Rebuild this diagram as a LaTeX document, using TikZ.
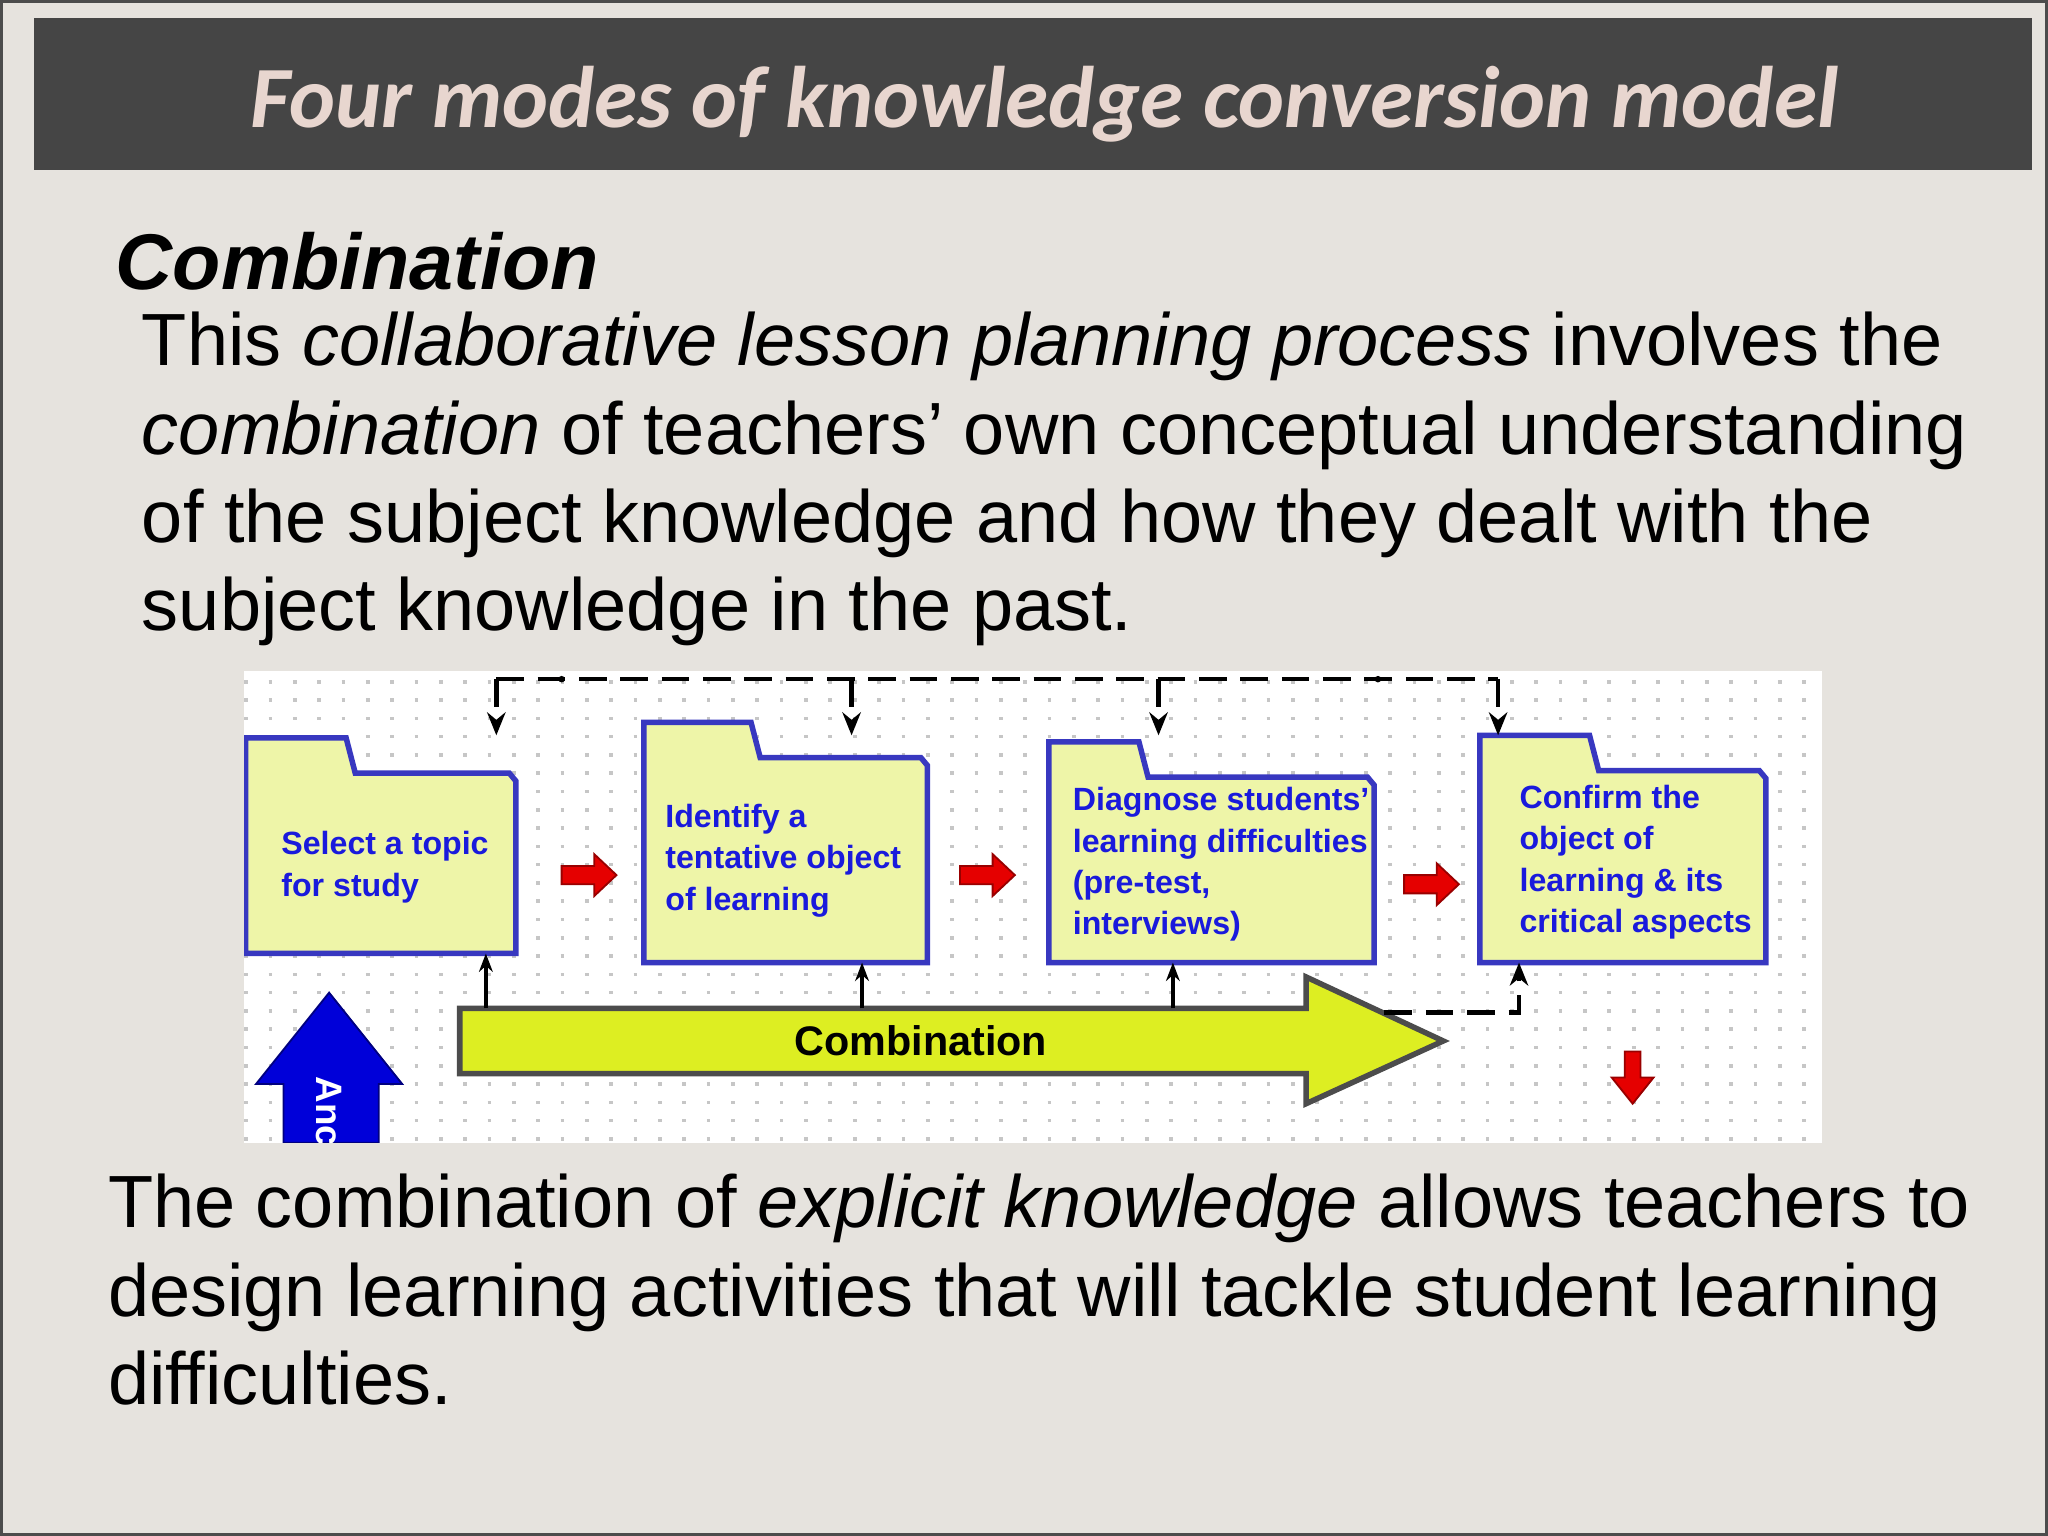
\documentclass[tikz,border=0pt]{standalone}
\usepackage{fontspec}
\setmainfont{Liberation Sans}
\newfontfamily\titlefont{Carlito}
\usetikzlibrary{arrows.meta}
\definecolor{bg}{HTML}{E6E3DE}
\definecolor{bar}{HTML}{454545}
\definecolor{ttl}{HTML}{E8D6CF}
\definecolor{fold}{HTML}{EEF5A8}
\definecolor{fblue}{HTML}{1A1ADC}
\definecolor{bigarrow}{HTML}{DDEE22}
\tikzset{
  folder/.style={fill=fold,draw=fblue!70!gray,line width=1.2pt},
  ftext/.style={text=fblue,font=\fontsize{7pt}{9pt}\selectfont\bfseries,align=left,anchor=west},
  redarr/.style={fill=red!90!black,draw=red!60!black,line width=0.4pt},
  fb/.style={dashed,line width=1pt,dash pattern=on 6pt off 3pt},
  tick/.style={-{Stealth[length=4pt,width=3pt]},line width=0.8pt},
  body/.style={font=\fontsize{16.1pt}{19.3pt}\selectfont,anchor=base west,align=left}
}
\begin{document}
\begin{tikzpicture}[x=0.01cm,y=-0.01cm]
\useasboundingbox (0,0) rectangle (1568,1176);
\fill[bg] (0,0) rectangle (1568,1176);
\draw[gray!60!black,line width=0.8pt] (1,1) rectangle (1567,1175);
\fill[bar] (26,14) rectangle (1556,130);
\node[text=ttl] (title) at (800,80) {\resizebox{12.15cm}{!}{\titlefont\fontsize{26pt}{30pt}\selectfont\bfseries\itshape Four modes of knowledge conversion model}};
\node[anchor=base west,font=\fontsize{17.2pt}{20pt}\selectfont\bfseries\itshape,inner sep=0] (comb) at (88,222) {Combination};
\node[body,inner sep=0] (t1) at (108,280) {This \textit{collaborative lesson planning process} involves the};
\node[body,inner sep=0] (t2) at (108,348) {\textit{combination} of teachers’ own conceptual understanding};
\node[body,inner sep=0] (t3) at (108,415) {of the subject knowledge and how they dealt with the};
\node[body,inner sep=0] (t4) at (108,483) {subject knowledge in the past.};
% diagram
\begin{scope}
\clip (187,514) rectangle (1395,875);
\fill[white] (187,514) rectangle (1395,875);
\foreach \yy in {522,536,...,875} \draw[gray!45,line width=0.8pt,dash pattern=on 0.8pt off 4.5pt] (187,\yy) -- (1395,\yy);
% folders
\draw[folder] (188,730) -- (188,565) -- (265,565) -- (272,592) -- (390,592) -- (395,598) -- (395,730) -- cycle;
\draw[folder] (493,737) -- (493,553) -- (575,553) -- (582,580) -- (705,580) -- (710,586) -- (710,737) -- cycle;
\draw[folder] (803,737) -- (803,568) -- (872,568) -- (879,595) -- (1047,595) -- (1052,601) -- (1052,737) -- cycle;
\draw[folder] (1133,737) -- (1133,563) -- (1217,563) -- (1224,590) -- (1347,590) -- (1352,596) -- (1352,737) -- cycle;
\node[ftext] (f1) at (203,664) {Select a topic\\for study};
\node[ftext] (f2) at (497,659) {Identify a\\tentative object\\of learning};
\node[ftext] (f3) at (809,662) {Diagnose students'\\learning difficulties\\(pre-test,\\interviews)};
\node[ftext] (f4) at (1151,660) {Confirm the\\object of\\learning \& its\\critical aspects};
% red arrows
\foreach \xx/\yy in {450/670,755/670,1095/677}
  \draw[redarr] (\xx-20,\yy-7) -- (\xx+5,\yy-7) -- (\xx+5,\yy-16) -- (\xx+22,\yy) -- (\xx+5,\yy+16) -- (\xx+5,\yy+7) -- (\xx-20,\yy+7) -- cycle;
\draw[redarr] (1244,805) -- (1256,805) -- (1256,825) -- (1266,825) -- (1250,845) -- (1234,825) -- (1244,825) -- cycle;
% feedback loop
\coordinate (c1) at (380,520); \coordinate (c4) at (1147,520);
\draw[fb] (c1) -- (c4);
\foreach \xx in {380,652,887,1147} \draw[fb,-{Stealth[length=5pt,width=4pt]}] (\xx,520) -- (\xx,563);
\foreach \xx in {430,1055} \fill (\xx,520) circle (2.5);
% big arrow
\draw[fill=bigarrow,draw=black!70,line width=1.2pt] (352,772) -- (1000,772) -- (1000,748) -- (1105,797) -- (1000,845) -- (1000,822) -- (352,822) -- cycle;
\node[font=\fontsize{9pt}{10pt}\selectfont\bfseries] (cb) at (705,797) {Combination};
\foreach \xx/\yt in {372/730,660/737,898/737} \draw[tick] (\xx,772) -- (\xx,\yt);
\draw[fb,-{Stealth[length=5pt,width=4pt]}] (1060,775) -- (1163,775) -- (1163,737);
% blue arrow
\draw[fill=blue!85!black,draw=blue!50!black] (217,875) -- (217,830) -- (196,830) -- (252,760) -- (308,830) -- (290,830) -- (290,875) -- cycle;
\node[text=white,rotate=-90,font=\fontsize{8pt}{9pt}\selectfont\bfseries,anchor=west] (anc) at (252,812) {Ancl};
\end{scope}
% bottom text
\node[body,inner sep=0] (b1) at (82,940) {The combination of \textit{explicit knowledge} allows teachers to};
\node[body,inner sep=0] (b2) at (82,1008) {design learning activities that will tackle student learning};
\node[body,inner sep=0] (b3) at (82,1075) {difficulties.};
\end{tikzpicture}
\end{document}
